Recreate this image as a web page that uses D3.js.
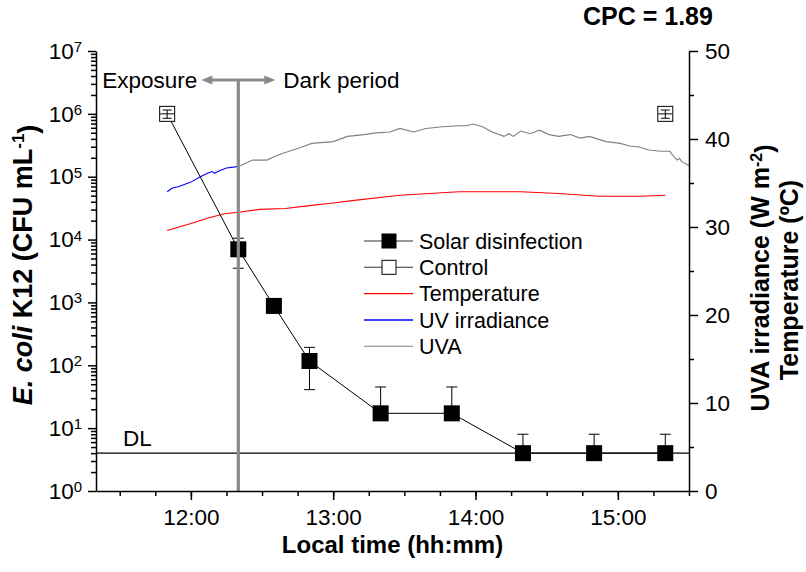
<!DOCTYPE html>
<html>
<head>
<meta charset="utf-8">
<script src="https://cdn.jsdelivr.net/npm/d3@7"></script>
<style>
  body { margin: 0; background: #fff; }
  svg { font-family: "Liberation Sans", Arial, sans-serif; }
</style>
</head>
<body>
<svg id="chart"></svg>
<script>
// DATA ////////////////////////////////////////////////////////////////

// solar disinfection samples (CFU/mL), first point is the initial count
var solarTimes = ["11:50", "12:20", "12:35", "12:50", "13:20", "13:50", "14:20", "14:50", "15:20"];
var solarCfu   = [1e6, 7000, 880, 117, 17.2, 17.2, 4, 4, 4];
var solarErr   = [0, 3500, 200, 76, 28, 28, 4, 4, 4];

var controlTimes = ["11:50", "15:20"];
var controlCfu   = [1e6, 1e6];
var controlErr   = [1.5e5, 1.5e5];

// UV irradiance during exposure (W m-2)
var uvTimes  = ["11:50", "11:52", "11:55", "12:00", "12:04", "12:07", "12:09", "12:10", "12:12", "12:15", "12:18", "12:20"];
var uvValues = [34.0, 34.4, 34.6, 35.1, 35.7, 36.1, 36.3, 36.1, 36.4, 36.7, 36.8, 36.9];

// UVA during dark period (W m-2)
var uvaTimes  = ["12:20", "12:21", "12:26", "12:32", "12:37", "12:43", "12:46", "12:51", "13:00", "13:06", "13:13",
                 "13:18", "13:24", "13:28", "13:34", "13:39", "13:46", "13:53", "13:56", "13:59", "14:03", "14:07",
                 "14:12", "14:14", "14:16", "14:19", "14:23", "14:27", "14:31", "14:35", "14:40", "14:44", "14:48",
                 "14:55", "15:01", "15:05", "15:09", "15:13", "15:18", "15:22", "15:23", "15:25", "15:26", "15:27", "15:30"];
var uvaValues = [36.9, 37.0, 37.6, 37.6, 38.2, 38.75, 39.0, 39.5, 39.7, 40.3, 40.5,
                 40.7, 40.8, 41.2, 40.8, 41.2, 41.4, 41.5, 41.5, 41.7, 41.4, 40.8,
                 40.3, 40.6, 40.3, 40.9, 40.6, 41.0, 40.5, 40.3, 40.5, 40.1, 40.3,
                 39.7, 39.5, 39.2, 39.1, 38.75, 38.6, 38.6, 38.2, 37.6, 37.8, 37.4, 37.0];

// water temperature (ºC)
var tempTimes  = ["11:50", "12:00", "12:07", "12:14", "12:21", "12:29", "12:40", "12:49", "12:59", "13:08", "13:28",
                  "13:53", "14:19", "14:35", "14:52", "15:09", "15:20"];
var tempValues = [29.6, 30.4, 31.0, 31.5, 31.7, 32.0, 32.1, 32.4, 32.7, 33.0, 33.6,
                  34.0, 34.0, 33.8, 33.5, 33.5, 33.6];

var detectionLimit = 4;
var exposureEnd = "12:20";

var logTicks = [1, 10, 100, 1000, 10000, 100000, 1000000, 10000000];
var rightTicks = [0, 10, 20, 30, 40, 50];

var legendItems = ["Solar disinfection", "Control", "Temperature", "UV irradiance", "UVA"];

// SETUP ///////////////////////////////////////////////////////////////

var WIDTH = 806, HEIGHT = 572;
var margin = { top: 51, right: 117, bottom: 81, left: 96 };
var w = WIDTH - margin.left - margin.right;
var h = HEIGHT - margin.top - margin.bottom;
var FONT = 22.5;

var svg = d3.select("#chart").attr("width", WIDTH).attr("height", HEIGHT);
var g = svg.append("g").attr("transform", "translate(" + margin.left + "," + margin.top + ")");

var parseT = d3.timeParse("%H:%M");

var x = d3.scaleTime().domain([parseT("11:20"), parseT("15:30")]).range([0, w]);
var y = d3.scaleLog().domain([1, 1e7]).range([h, 0]);
var yR = d3.scaleLinear().domain([0, 50]).range([h, 0]);

// environment lines
function envLine(times, values, colour) {
    var pts = times.map(function (t, i) { return [parseT(t), values[i]]; });
    g.append("path")
        .datum(pts)
        .attr("fill", "none")
        .attr("stroke", colour)
        .attr("stroke-width", 1.1)
        .attr("d", d3.line().x(function (d) { return x(d[0]); }).y(function (d) { return yR(d[1]); }));
}
envLine(uvaTimes, uvaValues, "#808080");
envLine(uvTimes, uvValues, "#0000ff");
envLine(tempTimes, tempValues, "#ff0000");

// detection limit
g.append("line")
    .attr("x1", 0).attr("x2", w)
    .attr("y1", y(detectionLimit)).attr("y2", y(detectionLimit))
    .attr("stroke", "#000").attr("stroke-width", 1.2);
g.append("text")
    .attr("x", 27).attr("y", y(detectionLimit) - 7)
    .style("font-size", FONT + "px")
    .text("DL");

// solar disinfection series
var solar = solarTimes.map(function (t, i) { return { t: parseT(t), v: solarCfu[i], e: solarErr[i] }; });
var control = controlTimes.map(function (t, i) { return { t: parseT(t), v: controlCfu[i], e: controlErr[i] }; });

g.append("path")
    .datum(solar)
    .attr("fill", "none")
    .attr("stroke", "#000")
    .attr("stroke-width", 1)
    .attr("d", d3.line().x(function (d) { return x(d.t); }).y(function (d) { return y(d.v); }));

function errorBars(data, capW) {
    var eg = g.append("g").attr("stroke", "#000").attr("stroke-width", 1);
    data.forEach(function (d) {
        if (!d.e) return;
        var cx = x(d.t);
        var top = y(d.v + d.e);
        var bot = d.v - d.e > 0 ? y(d.v - d.e) : y(d.v);
        eg.append("line").attr("x1", cx).attr("x2", cx).attr("y1", top).attr("y2", bot);
        eg.append("line").attr("x1", cx - capW / 2).attr("x2", cx + capW / 2).attr("y1", top).attr("y2", top);
        if (d.v - d.e > 0)
            eg.append("line").attr("x1", cx - capW / 2).attr("x2", cx + capW / 2).attr("y1", bot).attr("y2", bot);
    });
}
errorBars(solar.slice(1), 11);

var MS = 16;
g.append("g")
    .selectAll("rect")
    .data(solar.slice(1))
    .enter().append("rect")
        .attr("x", function (d) { return x(d.t) - MS / 2; })
        .attr("y", function (d) { return y(d.v) - MS / 2; })
        .attr("width", MS).attr("height", MS)
        .attr("fill", "#000");

// control markers (open squares with small error bars inside)
g.append("g")
    .selectAll("rect")
    .data(control)
    .enter().append("rect")
        .attr("x", function (d) { return x(d.t) - MS / 2 + 0.5; })
        .attr("y", function (d) { return y(d.v) - MS / 2 + 0.5; })
        .attr("width", MS - 1).attr("height", MS - 1)
        .attr("fill", "#fff")
        .attr("stroke", "#000")
        .attr("stroke-width", 1);
errorBars(control, 9);
g.append("g")
    .selectAll("line")
    .data(control)
    .enter().append("line")
        .attr("x1", function (d) { return x(d.t) - MS / 2 + 1; })
        .attr("x2", function (d) { return x(d.t) + MS / 2 - 1; })
        .attr("y1", function (d) { return y(d.v); })
        .attr("y2", function (d) { return y(d.v); })
        .attr("stroke", "#000");

// exposure / dark period marker
var xe = x(parseT(exposureEnd));
var arrowY = 29;
g.append("line")
    .attr("x1", xe).attr("x2", xe)
    .attr("y1", arrowY).attr("y2", h)
    .attr("stroke", "#8a8a8a").attr("stroke-width", 3.2);
g.append("line")
    .attr("x1", xe - 30).attr("x2", xe + 30)
    .attr("y1", arrowY).attr("y2", arrowY)
    .attr("stroke", "#8a8a8a").attr("stroke-width", 3.2);
[-1, 1].forEach(function (s) {
    var tip = xe + s * 37;
    g.append("path")
        .attr("d", "M" + tip + "," + arrowY + "L" + (tip - s * 11) + "," + (arrowY - 4.5) + "L" + (tip - s * 11) + "," + (arrowY + 4.5) + "Z")
        .attr("fill", "#8a8a8a");
});
g.append("text")
    .attr("x", xe - 41).attr("y", arrowY + 8)
    .attr("text-anchor", "end")
    .style("font-size", FONT + "px")
    .text("Exposure");
g.append("text")
    .attr("x", xe + 45).attr("y", arrowY + 8)
    .style("font-size", FONT + "px")
    .text("Dark period");

// AXES ////////////////////////////////////////////////////////////////

function styleAxis(sel) {
    sel.select(".domain").attr("stroke", "#000").attr("stroke-width", 1.5);
    sel.selectAll(".tick line").attr("stroke", "#000").attr("stroke-width", 1.5);
    sel.selectAll(".tick text").style("font-size", FONT + "px").attr("fill", "#000")
        .style("font-family", "Liberation Sans, Arial, sans-serif");
}

// bottom
var minorTimes = d3.timeMinute.every(15).range(parseT("11:30"), d3.timeMinute.offset(parseT("15:30"), 1));
g.append("g")
    .attr("transform", "translate(0," + h + ")")
    .call(d3.axisBottom(x).tickValues(minorTimes).tickSize(5).tickSizeOuter(0).tickFormat(""))
    .call(styleAxis);
var xAxis = g.append("g")
    .attr("transform", "translate(0," + h + ")")
    .call(d3.axisBottom(x).ticks(d3.timeHour.every(1)).tickSize(9).tickSizeOuter(0).tickPadding(9)
        .tickFormat(d3.timeFormat("%H:%M")))
    .call(styleAxis);
xAxis.select(".domain").remove();

// left (log)
var minorLog = [];
for (var p = 0; p < 7; p++) for (var k = 2; k <= 9; k++) minorLog.push(k * Math.pow(10, p));
g.append("g")
    .call(d3.axisLeft(y).tickValues(minorLog).tickSize(5).tickSizeOuter(0).tickFormat(""))
    .call(styleAxis);
var yAxis = g.append("g")
    .call(d3.axisLeft(y).tickValues(logTicks).tickSize(8).tickSizeOuter(0).tickPadding(6).tickFormat(""))
    .call(styleAxis);
yAxis.select(".domain").remove();
yAxis.selectAll(".tick text").each(function (d) {
    var t = d3.select(this);
    t.append("tspan").text("10");
    t.append("tspan").attr("dy", "-0.45em").style("font-size", "15px").text(Math.round(Math.log10(d)));
});

// right
g.append("g")
    .attr("transform", "translate(" + w + ",0)")
    .call(d3.axisRight(yR).tickValues([5, 15, 25, 35, 45]).tickSize(5).tickSizeOuter(0).tickFormat(""))
    .call(styleAxis);
var rAxis = g.append("g")
    .attr("transform", "translate(" + w + ",0)")
    .call(d3.axisRight(yR).tickValues(rightTicks).tickSize(9).tickSizeOuter(0).tickPadding(7))
    .call(styleAxis);
rAxis.select(".domain").remove();

// TITLES //////////////////////////////////////////////////////////////

g.append("text")
    .attr("x", w / 2).attr("y", h + 62)
    .attr("text-anchor", "middle")
    .style("font-size", "24px").style("font-weight", "bold")
    .text("Local time (hh:mm)");

var lt = svg.append("text")
    .attr("transform", "translate(32,265) rotate(-90)")
    .attr("text-anchor", "middle")
    .style("font-size", "27px").style("font-weight", "bold");
lt.append("tspan").style("font-style", "italic").text("E. coli");
lt.append("tspan").text(" K12 (CFU mL");
lt.append("tspan").attr("dy", "-0.45em").style("font-size", "17px").text("-1");
lt.append("tspan").attr("dy", "0.45em").text(")");

var rt = svg.append("text")
    .attr("transform", "translate(769,278) rotate(-90)")
    .attr("text-anchor", "middle")
    .style("font-size", "25px").style("font-weight", "bold");
rt.append("tspan").text("UVA irradiance (W m");
rt.append("tspan").attr("dy", "-0.45em").style("font-size", "16px").text("-2");
rt.append("tspan").attr("dy", "0.45em").text(")");

svg.append("text")
    .attr("transform", "translate(798,280) rotate(-90)")
    .attr("text-anchor", "middle")
    .style("font-size", "25px").style("font-weight", "bold")
    .text("Temperature (ºC)");

svg.append("text")
    .attr("x", 583).attr("y", 25)
    .style("font-size", "25px").style("font-weight", "bold")
    .text("CPC = 1.89");

// LEGEND //////////////////////////////////////////////////////////////

var legend = svg.append("g").attr("transform", "translate(364,241)");
var legendColours = ["#333", "#333", "#ff0000", "#0000ff", "#808080"];
legendItems.forEach(function (name, i) {
    var row = legend.append("g").attr("transform", "translate(0," + (i * 26.3) + ")");
    row.append("line").attr("x1", 0).attr("x2", 49).attr("y1", 0).attr("y2", 0)
        .attr("stroke", legendColours[i]).attr("stroke-width", i === 3 ? 1.5 : 1.1);
    if (i === 0)
        row.append("rect").attr("x", 17.5).attr("y", -7.5).attr("width", 15).attr("height", 15).attr("fill", "#000");
    if (i === 1)
        row.append("rect").attr("x", 18).attr("y", -7).attr("width", 14).attr("height", 14)
            .attr("fill", "#fff").attr("stroke", "#000");
    row.append("text")
        .attr("x", 55).attr("y", 0).attr("dy", "0.36em")
        .style("font-size", "21.5px")
        .text(name);
});
</script>
</body>
</html>
